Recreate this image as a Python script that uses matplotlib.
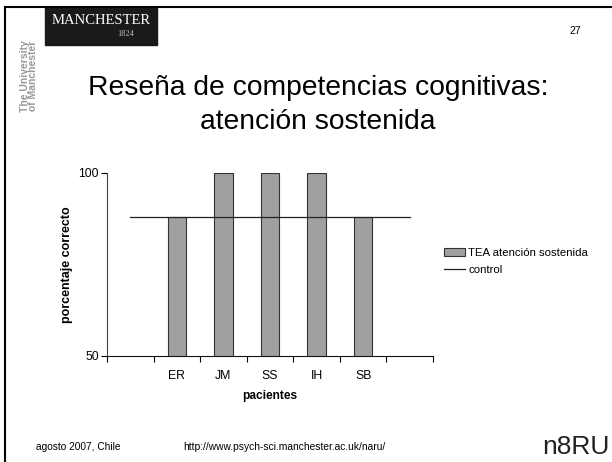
import numpy as np
import matplotlib
matplotlib.use('Agg')
import matplotlib.pyplot as plt
from matplotlib.lines import Line2D
from matplotlib.patches import Rectangle

plt.rcParams['font.family'] = ['Liberation Sans', 'DejaVu Sans']

# data
pacientes = ['', 'ER', 'JM', 'SS', 'IH', 'SB', '']
tea = [np.nan, 88, 100, 100, 100, 88, np.nan]
control = [88, 88, 88, 88, 88, 88, 88]

W, H = 612, 462
fig = plt.figure(figsize=(W / 100, H / 100), dpi=100)

# slide frame
fig.add_artist(Line2D([5 / W, 1], [1 - 7 / H, 1 - 7 / H], color='black', lw=1.5))
fig.add_artist(Line2D([5 / W, 5 / W], [0, 1 - 7 / H], color='black', lw=1.5))

# Manchester logo
fig.add_artist(Rectangle((45 / W, 1 - 45 / H), 112 / W, 38 / H, color='#1a1a1a'))
fig.text(101 / W, 1 - 21 / H, 'MANCHESTER', color='white', fontsize=10.5,
         family='Liberation Serif', ha='center', va='center')
fig.text(126 / W, 1 - 34 / H, '1824', color='#bbbbbb', fontsize=6,
         family='Liberation Serif', ha='center', va='center')
fig.text(29 / W, 1 - 76 / H, 'The University\nof Manchester', color='#999999',
         fontsize=7.5, fontweight='bold', rotation=90, ha='center', va='center',
         linespacing=0.85)

fig.text(575 / W, 1 - 31 / H, '27', fontsize=7.5, ha='center', va='center')

# title
fig.text(318 / W, 1 - 88 / H, 'Reseña de competencias cognitivas:', fontsize=20.3,
         ha='center', va='center')
fig.text(318 / W, 1 - 122 / H, 'atención sostenida', fontsize=20.3,
         ha='center', va='center')

# chart
ax = fig.add_axes([107 / W, 1 - 356 / H, 326 / W, 183 / H])
x = np.arange(len(pacientes))
ax.bar(x, tea, width=0.4, color='#a0a0a0', edgecolor='#333333', linewidth=0.8,
       label='TEA atención sostenida', zorder=2)
ax.plot(x, control, color='#222222', lw=0.9, label='control', zorder=3)

ax.set_xlim(-0.5, len(pacientes) - 0.5)
ax.set_ylim(50, 100)
ax.set_yticks([50, 100])
ax.tick_params(axis='y', labelsize=8.8, length=4, width=0.8, direction='out', pad=2)
ax.set_xticks(x)
ax.set_xticklabels(pacientes)
ax.tick_params(axis='x', which='major', length=0, labelsize=8.8, pad=10)
ax.set_xticks(np.arange(-0.5, len(pacientes)), minor=True)
ax.tick_params(axis='x', which='minor', length=4, width=0.8, direction='out')
for s in ['top', 'right']:
    ax.spines[s].set_visible(False)
ax.spines['left'].set_color('#444444')
ax.spines['bottom'].set_color('#111111')
ax.set_xlabel('pacientes', fontsize=8.6, fontweight='bold', labelpad=6)
ax.set_ylabel('porcentaje correcto', fontsize=9, fontweight='bold', labelpad=4)

handles, labels = ax.get_legend_handles_labels()
leg = fig.legend(handles[::-1], labels[::-1], loc='upper left',
                 bbox_to_anchor=(434 / W, 1 - 238 / H), frameon=False,
                 fontsize=8.2, handlelength=1.8, handletextpad=0.3, labelspacing=0.55)

# footer
fig.text(36 / W, 1 - 447 / H, 'agosto 2007, Chile', fontsize=7.3, ha='left', va='center')
fig.text(183 / W, 1 - 447 / H, 'http://www.psych-sci.manchester.ac.uk/naru/', fontsize=7.4,
         ha='left', va='center')
fig.text(610 / W, 1 - 447 / H, 'n8RU', fontsize=19, ha='right', va='center',
         color='#222222')

fig.savefig('out.png', dpi=100)
